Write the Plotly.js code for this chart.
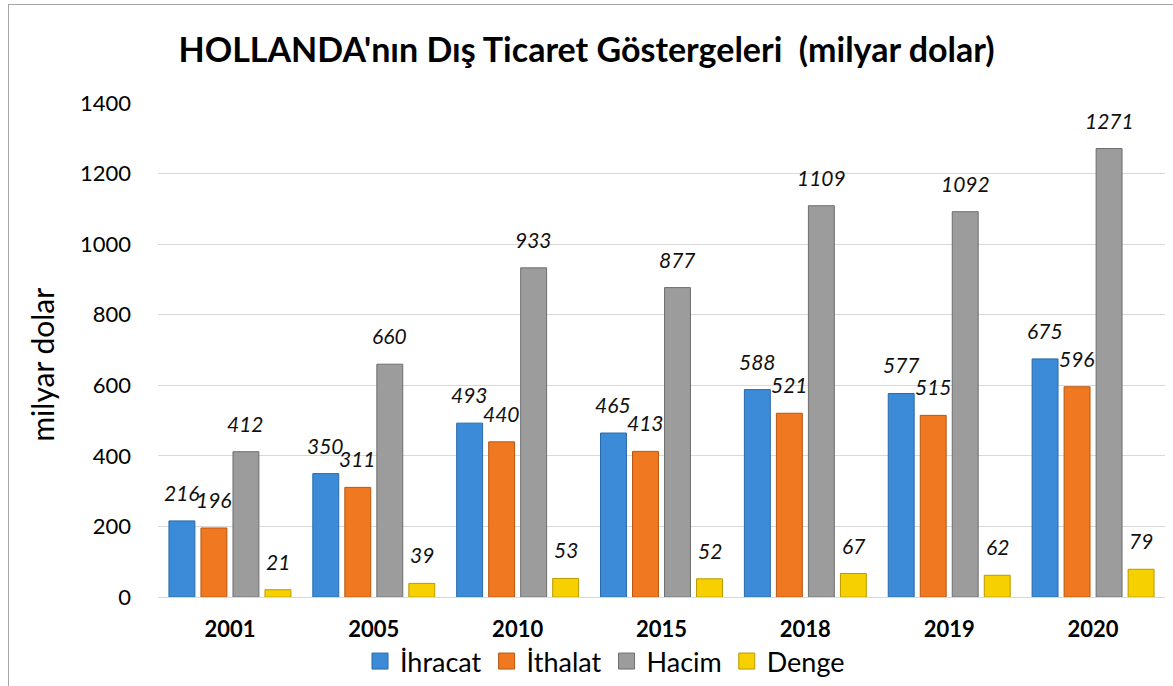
<!DOCTYPE html>
<html>
<head>
<meta charset="utf-8">
<script src="https://cdn.plot.ly/plotly-3.0.1.min.js"></script>
<style>
html,body{margin:0;padding:0;background:#fff;overflow:hidden;width:1173px;height:686px;}
#chart{position:absolute;left:0;top:0;width:1173px;height:686px;}
#frame{position:absolute;left:8px;top:4px;width:1170px;height:690px;border:1px solid #a6a6a6;pointer-events:none;}
</style>
</head>
<body>
<div id="chart"></div>
<div id="frame"></div>
<script>
var categories = ['2001','2005','2010','2015','2018','2019','2020'];
var ihracat = [216, 350, 493, 465, 588, 577, 675];
var ithalat = [196, 311, 440, 413, 521, 515, 596];
var hacim   = [412, 660, 933, 877, 1109, 1092, 1271];
var denge   = [21, 39, 53, 52, 67, 62, 79];
var seriesNames = ['İhracat', 'İthalat', 'Hacim', 'Denge'];
var yTicks = [0, 200, 400, 600, 800, 1000, 1200, 1400];

var fills = ['#3b8bd9', '#f07820', '#9c9c9c', '#f7d000'];
var edges = ['#2a6aa8', '#b8560f', '#6e6e6e', '#b89a00'];
var allValues = [ihracat, ithalat, hacim, denge];

var W = 1173, H = 686;
var margin = {l:158, r:8, t:103, b:0};
var plotBottomPx = 598;           // where the x axis sits
var paperH = H - margin.t - margin.b;
var yDomainStart = (H - margin.b - plotBottomPx) / paperH;
var bargap = 0.11, bargroupgap = 0.19;

var traces = allValues.map(function(vals, i){
  return {
    type:'bar', name: seriesNames[i], x: categories, y: vals,
    marker:{color: fills[i], line:{color: edges[i], width:1}},
    hoverinfo:'none', showlegend:false
  };
});
// legend entries with square swatches
seriesNames.forEach(function(n, i){
  traces.push({
    type:'scatter', mode:'markers', name:n, x:[null], y:[null],
    marker:{symbol:'square', size:16, color: fills[i], line:{color: edges[i], width:1}},
    hoverinfo:'none', showlegend:true
  });
});

var plotW = W - margin.l - margin.r;
var catPx = plotW / categories.length;
var slotPx = catPx * (1 - bargap) / allValues.length;
var annotations = [];
allValues.forEach(function(vals, i){
  vals.forEach(function(v, j){
    annotations.push({
      x: j, y: v, xref:'x', yref:'y',
      text: String(v), showarrow:false,
      xshift: (i - (allValues.length-1)/2) * slotPx,
      yshift: 14, yanchor:'bottom',
      font:{family:'Lato, sans-serif', size:21, color:'#111', style:'italic'}
    });
  });
});
annotations.push({
  xref:'paper', yref:'paper',
  x: (42 - margin.l) / plotW, y: (H - margin.b - 365) / paperH,
  xanchor:'center', yanchor:'middle', textangle:-90, showarrow:false,
  text:'milyar dolar', font:{family:'Lato, sans-serif', size:30, color:'#000'}
});

var layout = {
  width: W, height: H,
  margin: margin,
  paper_bgcolor:'#ffffff', plot_bgcolor:'#ffffff',
  barmode:'group', bargap: bargap, bargroupgap: bargroupgap,
  title:{text:"HOLLANDA'nın Dış Ticaret Göstergeleri \u00a0(milyar dolar)",
         font:{family:'Lato, sans-serif', size:34, color:'#000', weight:'bold'},
         x:0.5, xanchor:'center', y:0.927, yanchor:'middle'},
  xaxis:{type:'category', range:[-0.5, categories.length - 0.5], showgrid:false, showline:true, linecolor:'#d9d9d9', linewidth:1,
         tickfont:{family:'Lato, sans-serif', size:22, color:'#000', weight:'bold'},
         ticks:'', ticklabelstandoff: 12, fixedrange:true, automargin:false},
  yaxis:{domain:[yDomainStart, 1], range:[0,1400], tickvals:yTicks, showgrid:true, gridcolor:'#d9d9d9', gridwidth:1,
         zeroline:false, showline:false, ticks:'', ticklabelstandoff: 26,
         tickfont:{family:'Lato, sans-serif', size:22, color:'#000'},
         automargin:false, fixedrange:true},
  legend:{orientation:'h', x:(605 - margin.l) / plotW, xanchor:'center', y:(H - margin.b - 662) / paperH, yanchor:'middle',
          font:{family:'Lato, sans-serif', size:27, color:'#000'},
          itemwidth:30, tracegroupgap:0, bgcolor:'rgba(0,0,0,0)'},
  annotations: annotations,
  showlegend:true
};

Plotly.newPlot('chart', traces, layout, {displayModeBar:false, staticPlot:true});
</script>
</body>
</html>
